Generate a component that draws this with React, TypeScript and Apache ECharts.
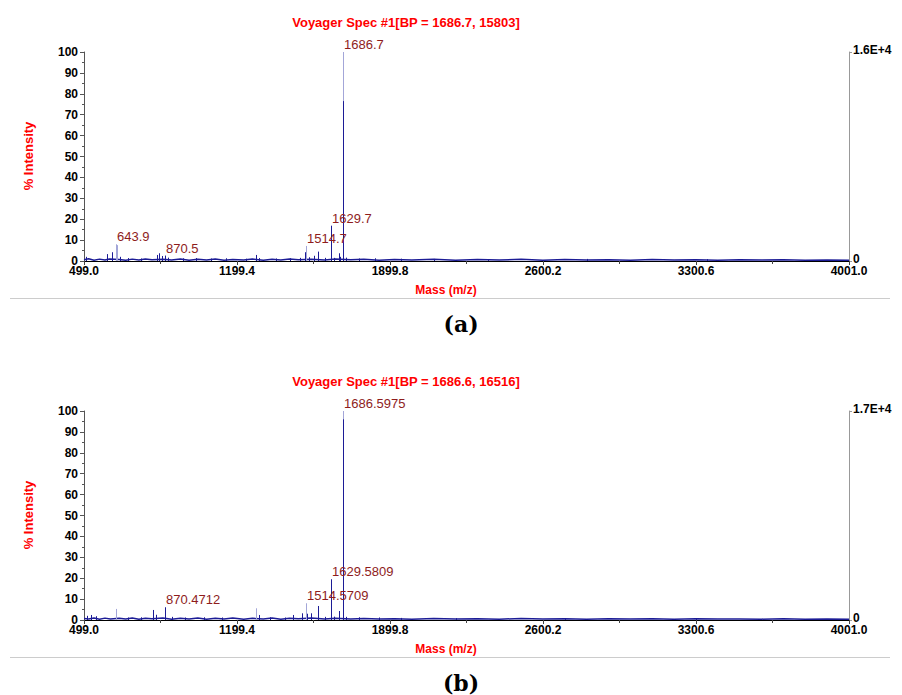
import { useEffect, useRef } from 'react';
import * as echarts from 'echarts';

// Mass range and tick step shared by both spectra
const massMin = 499.0;
const massMax = 4001.0;
const massStep = 700.4;

// Spectrum (a): [m/z, % intensity]
const titleA = 'Voyager Spec #1[BP = 1686.7, 15803]';
const rightTicksA = ['0', '1.6E+4'];
const peaksA: [number, number][] = [
  [508, 2.0], [606, 3.3], [626, 4.2], [643.9, 8.0], [648, 7.6], [664, 2.0],
  [700, 1.4], [760, 1.2], [831, 2.9], [842, 3.7], [854, 2.4], [870.5, 2.6],
  [885, 1.6], [950, 1.3], [1010, 1.4], [1080, 1.2], [1150, 1.3], [1240, 1.1],
  [1285, 2.9], [1300, 1.4], [1380, 1.2], [1440, 1.3], [1490, 1.5], [1512, 4.2],
  [1514.7, 7.2], [1530, 1.8], [1552, 2.5], [1571, 4.5], [1600, 1.5], [1629.7, 16.9],
  [1645, 1.5], [1666, 3.7], [1672, 2.0], [1686.6, 76.5], [1686.7, 100], [1700, 1.6],
  [1760, 1.2], [1830, 1.3], [1950, 1.1], [2100, 1.0], [2350, 0.9], [2800, 1.0], [3350, 0.9],
];
const labelledA = [643.9, 870.5, 1514.7, 1629.7, 1686.7];
const faintA = [643.9, 648, 1514.7, 1686.7];
const baselineA: [number, number][] = [
  [499, 0.6], [520, 1.1], [545, 0.4], [570, 0.9], [595, 0.5], [615, 1.0], [660, 0.7],
  [690, 0.4], [720, 0.9], [750, 0.5], [780, 1.0], [810, 0.6], [860, 0.8], [900, 0.5],
  [940, 0.9], [980, 0.4], [1020, 0.8], [1060, 0.5], [1100, 0.9], [1140, 0.4], [1180, 0.7],
  [1230, 0.5], [1270, 0.9], [1320, 0.4], [1360, 0.8], [1400, 0.5], [1440, 0.9], [1480, 0.6],
  [1540, 0.8], [1600, 0.5], [1650, 0.9], [1720, 0.6], [1780, 0.8], [1850, 0.4], [1920, 0.7],
  [2000, 0.5], [2100, 0.8], [2200, 0.4], [2300, 0.7], [2400, 0.5], [2500, 0.8], [2600, 0.4],
  [2700, 0.7], [2800, 0.5], [2900, 0.6], [3000, 0.4], [3100, 0.7], [3200, 0.5], [3300, 0.6],
  [3400, 0.4], [3500, 0.6], [3600, 0.5], [3700, 0.6], [3800, 0.4], [3900, 0.5], [4001, 0.4],
];

// Spectrum (b): [m/z, % intensity]
const titleB = 'Voyager Spec #1[BP = 1686.6, 16516]';
const rightTicksB = ['0', '1.7E+4'];
const peaksB: [number, number][] = [
  [514, 2.0], [529, 2.4], [552, 1.8], [644, 5.3], [700, 1.2], [760, 1.3], [816, 4.8],
  [827, 2.5], [870.4712, 6.1], [900, 1.5], [960, 1.2], [1050, 1.3], [1130, 1.2],
  [1286, 5.6], [1302, 2.4], [1350, 1.3], [1420, 1.2], [1457, 2.4], [1495, 3.2],
  [1514.5709, 8.0], [1520, 3.0], [1538, 3.2], [1569, 6.7], [1600, 1.5], [1629.5809, 19.5],
  [1645, 1.6], [1666, 4.3], [1686.5, 96], [1686.5975, 100], [1700, 1.5], [1760, 1.3],
  [1850, 1.2], [1950, 1.0], [2200, 0.9], [2700, 0.9], [3300, 0.8],
];
const labelledB = [870.4712, 1514.5709, 1629.5809, 1686.5975];
const faintB = [644, 1286, 1514.5709, 1686.5975];
const baselineB: [number, number][] = [
  [499, 0.7], [520, 0.5], [545, 1.0], [570, 0.4], [595, 0.9], [620, 0.5], [660, 0.8],
  [690, 0.5], [720, 1.0], [750, 0.4], [780, 0.8], [810, 0.6], [860, 0.9], [900, 0.4],
  [940, 0.8], [980, 0.5], [1020, 0.9], [1060, 0.4], [1100, 0.8], [1140, 0.5], [1180, 0.9],
  [1230, 0.4], [1270, 0.8], [1320, 0.5], [1360, 0.9], [1400, 0.4], [1440, 0.8], [1480, 0.6],
  [1540, 0.9], [1600, 0.5], [1650, 0.8], [1720, 0.5], [1780, 0.7], [1850, 0.5], [1920, 0.6],
  [2000, 0.4], [2100, 0.7], [2200, 0.5], [2300, 0.6], [2400, 0.4], [2500, 0.7], [2600, 0.5],
  [2700, 0.6], [2800, 0.4], [2900, 0.6], [3000, 0.5], [3100, 0.6], [3200, 0.4], [3300, 0.6],
  [3400, 0.5], [3500, 0.5], [3600, 0.4], [3700, 0.6], [3800, 0.4], [3900, 0.5], [4001, 0.4],
];

const INK = '#1c1c96';
const FAINT = '#a3a6d8';
const LABEL = '#8e1c1c';
const RED = '#ff0000';
const SANS = '"Liberation Sans", Arial, sans-serif';

const peakRenderer = (labelled: number[], faint: number[], digits: number) =>
  (_params: any, api: any) => {
    const mz = api.value(0);
    const v = api.value(1);
    const top = api.coord([mz, v]);
    const base = api.coord([mz, 0]);
    const x = Math.round(top[0]) + 0.5;
    const isFaint = faint.includes(mz);
    const children: any[] = [
      {
        type: 'line',
        z2: isFaint ? 1 : 2,
        shape: { x1: x, y1: base[1], x2: x, y2: top[1] },
        style: { stroke: isFaint ? FAINT : INK, lineWidth: 1 },
      },
    ];
    if (labelled.includes(mz)) {
      children.push({
        type: 'text',
        z2: 3,
        x: x + 0.5,
        y: top[1] - 1,
        style: {
          text: mz.toFixed(digits),
          fill: LABEL,
          font: `13px ${SANS}`,
          align: 'left',
          verticalAlign: 'bottom',
        },
      });
    }
    return { type: 'group', children };
  };

const xAxisFor = (gridIndex: number) => ({
  type: 'value',
  gridIndex,
  min: massMin,
  max: massMax,
  interval: massStep,
  axisLine: { show: true, onZero: false, lineStyle: { color: '#000', width: 1 } },
  axisTick: { show: true, length: 4, lineStyle: { color: '#444' } },
  minorTick: { show: true, splitNumber: 2, length: 3, lineStyle: { color: '#444' } },
  splitLine: { show: false },
  axisLabel: {
    formatter: (v: number) => v.toFixed(1),
    color: '#000',
    fontWeight: 'bold',
    fontSize: 12,
    fontFamily: SANS,
    margin: 4,
    showMinLabel: true,
    showMaxLabel: true,
  },
});

const leftAxisFor = (gridIndex: number) => ({
  type: 'value',
  gridIndex,
  min: 0,
  max: 100,
  interval: 10,
  axisLine: { show: true, lineStyle: { color: '#555' } },
  axisTick: { show: true, length: 4, lineStyle: { color: '#555' } },
  minorTick: { show: true, splitNumber: 2, length: 2, lineStyle: { color: '#555' } },
  splitLine: { show: false },
  axisLabel: {
    color: '#000',
    fontWeight: 'bold',
    fontSize: 12,
    fontFamily: SANS,
    margin: 6,
  },
});

const rightAxisFor = (gridIndex: number, ticks: string[]) => ({
  type: 'value',
  gridIndex,
  position: 'right',
  min: 0,
  max: 1,
  interval: 1,
  axisLine: { show: true, lineStyle: { color: '#999' } },
  axisTick: { show: true, length: 3, lineStyle: { color: '#999' } },
  splitLine: { show: false },
  axisLabel: {
    formatter: (v: number) => ticks[v] ?? '',
    color: '#000',
    fontWeight: 'bold',
    fontSize: 12,
    fontFamily: SANS,
    margin: 4,
    verticalAlign: 'bottom',
    lineHeight: 14,
    padding: [0, 0, -5, 0],
  },
});

const panelText = (top: number, title: string, tag: string) => [
  {
    type: 'text',
    x: 406,
    y: top - 30,
    style: { text: title, fill: RED, font: `bold 13px ${SANS}`, align: 'center', verticalAlign: 'middle' },
  },
  {
    type: 'text',
    x: 28,
    y: top + 104,
    rotation: Math.PI / 2,
    style: { text: '% Intensity', fill: RED, font: `bold 13px ${SANS}`, align: 'center', verticalAlign: 'middle' },
  },
  {
    type: 'text',
    x: 446,
    y: top + 238,
    style: { text: 'Mass (m/z)', fill: RED, font: `bold 12px ${SANS}`, align: 'center', verticalAlign: 'middle' },
  },
  {
    type: 'line',
    shape: { x1: 10, y1: top + 246.5, x2: 890, y2: top + 246.5 },
    style: { stroke: '#cccccc', lineWidth: 1 },
  },
  {
    type: 'text',
    x: 461,
    y: top + 272,
    style: { text: tag, fill: '#000', font: `bold 22px "DejaVu Serif", serif`, align: 'center', verticalAlign: 'middle' },
  },
];

export default function App() {
  const ref = useRef<HTMLDivElement>(null);

  useEffect(() => {
    if (!ref.current) return;
    const chart = echarts.init(ref.current, undefined, { renderer: 'svg' });
    const gridTops = [52, 411];

    chart.setOption({
      animation: false,
      backgroundColor: '#fff',
      grid: gridTops.map((top) => ({ left: 84, width: 765, top, height: 209, containLabel: false })),
      xAxis: [xAxisFor(0), xAxisFor(1)],
      yAxis: [
        leftAxisFor(0),
        rightAxisFor(0, rightTicksA),
        leftAxisFor(1),
        rightAxisFor(1, rightTicksB),
      ],
      series: [
        {
          type: 'line',
          xAxisIndex: 0,
          yAxisIndex: 0,
          data: baselineA,
          showSymbol: false,
          lineStyle: { color: INK, width: 1.5 },
          z: 2,
        },
        {
          type: 'custom',
          xAxisIndex: 0,
          yAxisIndex: 0,
          data: peaksA,
          clip: false,
          renderItem: peakRenderer(labelledA, faintA, 1),
          z: 3,
        },
        {
          type: 'line',
          xAxisIndex: 1,
          yAxisIndex: 2,
          data: baselineB,
          showSymbol: false,
          lineStyle: { color: INK, width: 1.5 },
          z: 2,
        },
        {
          type: 'custom',
          xAxisIndex: 1,
          yAxisIndex: 2,
          data: peaksB,
          clip: false,
          renderItem: peakRenderer(labelledB, faintB, 4),
          z: 3,
        },
      ],
      graphic: [...panelText(gridTops[0], titleA, '(a)'), ...panelText(gridTops[1], titleB, '(b)')],
    });

    return () => chart.dispose();
  }, []);

  return (
    <div
      ref={ref}
      style={{ position: 'absolute', left: 0, top: 0, width: 902, height: 695, background: '#fff' }}
    />
  );
}
